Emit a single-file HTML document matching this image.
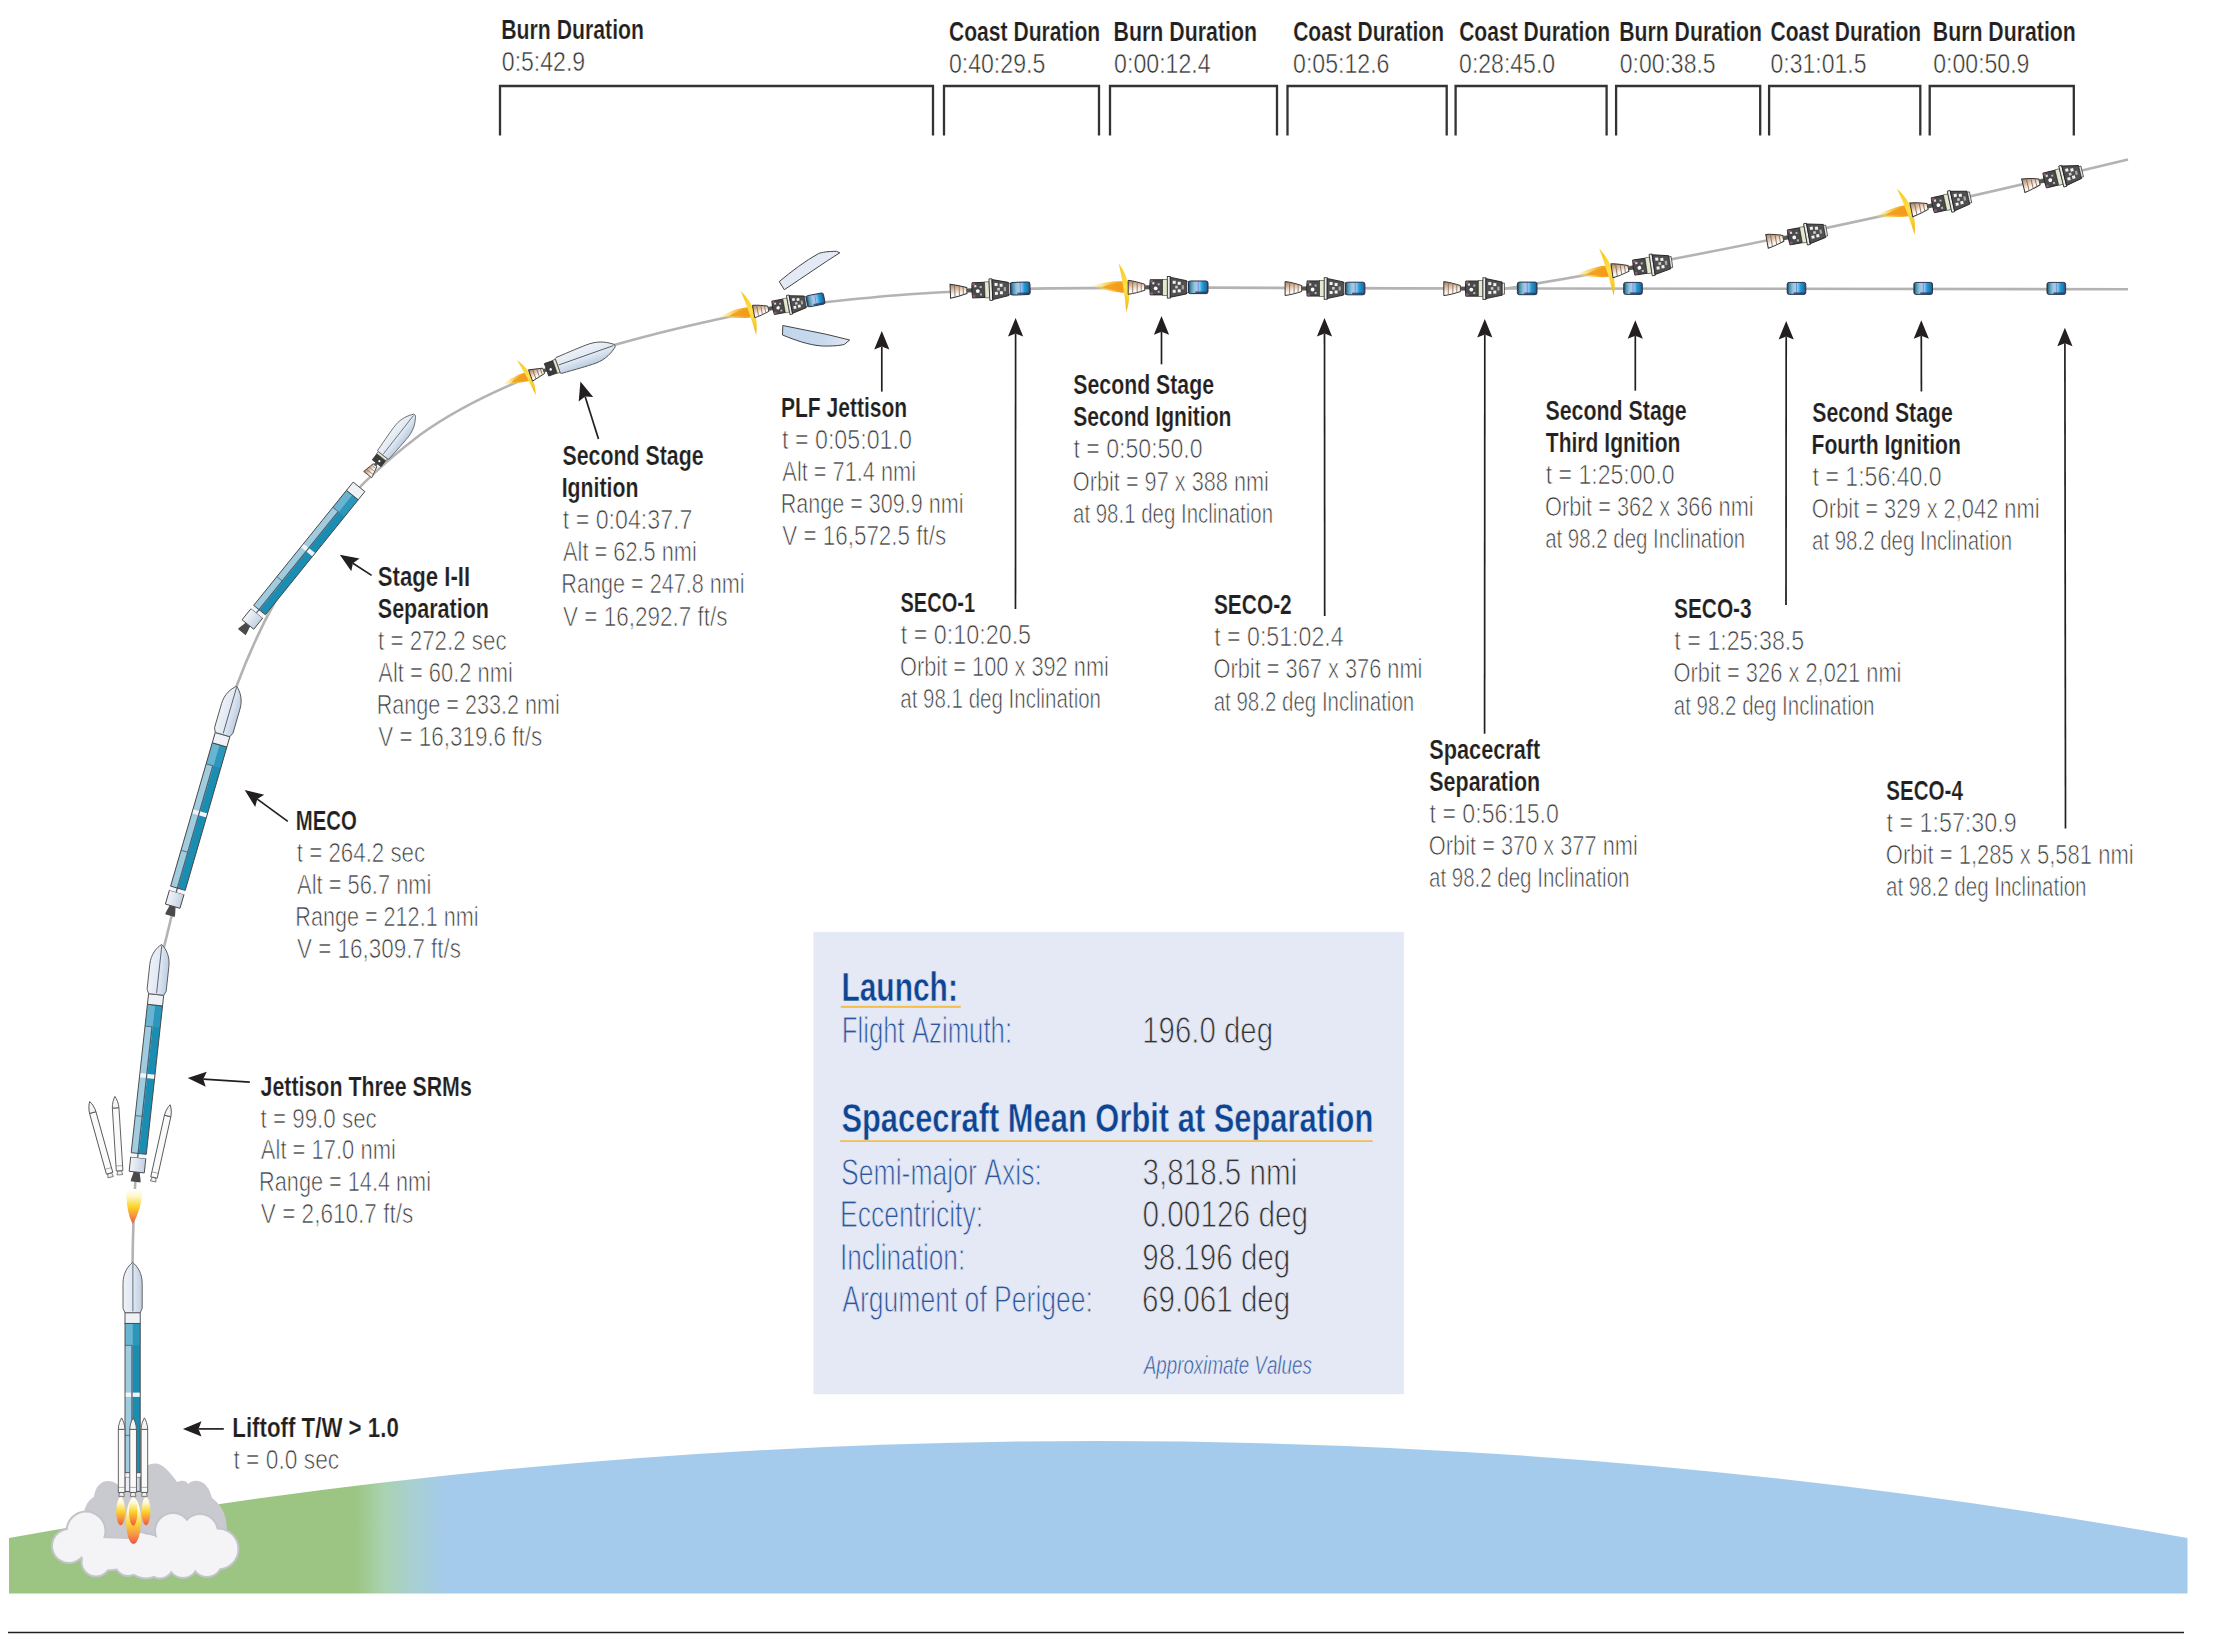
<!DOCTYPE html>
<html><head><meta charset="utf-8"><title>Launch Sequence</title><style>html,body{margin:0;padding:0;background:#fff;}svg{display:block;}</style></head><body>
<svg width="2232" height="1643" viewBox="0 0 2232 1643" font-family="Liberation Sans, sans-serif">
<defs><linearGradient id="gnd" gradientUnits="userSpaceOnUse" x1="0" y1="0" x2="2232" y2="0">
<stop offset="0" stop-color="#9cc482"/>
<stop offset="0.159" stop-color="#9cc482"/>
<stop offset="0.171" stop-color="#a9d2ad"/>
<stop offset="0.184" stop-color="#a8d0d0"/>
<stop offset="0.2" stop-color="#a5cbec"/>
<stop offset="1" stop-color="#a5cbec"/>
</linearGradient>

<linearGradient id="fairG" x1="0" y1="0" x2="1" y2="0">
 <stop offset="0" stop-color="#eef2f8"/><stop offset="0.55" stop-color="#dfe7f1"/><stop offset="1" stop-color="#bccde2"/>
</linearGradient>
<linearGradient id="fairGh" x1="0" y1="0" x2="0" y2="1">
 <stop offset="0" stop-color="#eef2f8"/><stop offset="0.55" stop-color="#dfe7f1"/><stop offset="1" stop-color="#b9cbe2"/>
</linearGradient>
<linearGradient id="skirtG" x1="0" y1="0" x2="1" y2="0">
 <stop offset="0" stop-color="#f2f5f9"/><stop offset="0.5" stop-color="#dce4ee"/><stop offset="1" stop-color="#c3d0e0"/>
</linearGradient>
<linearGradient id="noz" x1="0" y1="0" x2="0.25" y2="1">
 <stop offset="0" stop-color="#a87c5a"/><stop offset="0.45" stop-color="#e2c4ad"/><stop offset="0.75" stop-color="#fbf4ee"/><stop offset="1" stop-color="#ffffff"/>
</linearGradient>
<linearGradient id="plG" x1="0" y1="0" x2="1" y2="0">
 <stop offset="0" stop-color="#1d3550"/><stop offset="0.12" stop-color="#4a8fb0"/><stop offset="0.3" stop-color="#8cc6d6"/><stop offset="0.45" stop-color="#b8c4ee"/>
 <stop offset="0.5" stop-color="#6e8fd0"/><stop offset="0.55" stop-color="#9cc4f6"/><stop offset="0.72" stop-color="#15a0d2"/><stop offset="0.9" stop-color="#2a6fa8"/><stop offset="1" stop-color="#3a3f66"/>
</linearGradient>
<linearGradient id="plume" x1="0" y1="0" x2="1" y2="0">
 <stop offset="0" stop-color="#ffe680" stop-opacity="0"/><stop offset="0.35" stop-color="#fbd03a" stop-opacity="0.7"/><stop offset="0.7" stop-color="#f5a623"/><stop offset="1" stop-color="#f39c1a"/>
</linearGradient>
<linearGradient id="cres" x1="0" y1="0" x2="0" y2="1">
 <stop offset="0" stop-color="#f7c51e"/><stop offset="0.5" stop-color="#ffe24a"/><stop offset="1" stop-color="#f3b515"/>
</linearGradient>
<linearGradient id="flameV" x1="0" y1="0" x2="0" y2="1">
 <stop offset="0" stop-color="#ffffff"/><stop offset="0.25" stop-color="#fffbe0"/><stop offset="0.55" stop-color="#fcd935"/><stop offset="0.78" stop-color="#f79a45"/><stop offset="1" stop-color="#ee5548"/>
</linearGradient>
<linearGradient id="flameS" x1="0" y1="0" x2="0" y2="1">
 <stop offset="0" stop-color="#ffffff"/><stop offset="0.22" stop-color="#fff6c4"/><stop offset="0.5" stop-color="#fcd52a"/><stop offset="0.75" stop-color="#f8963a"/><stop offset="1" stop-color="#ee5845"/>
</linearGradient>
<linearGradient id="plfLo" x1="0" y1="0" x2="1" y2="0">
 <stop offset="0" stop-color="#c0d5ec"/><stop offset="0.6" stop-color="#c9daee"/><stop offset="1" stop-color="#e2e6f2"/>
</linearGradient>


<g id="stage1">
 <rect x="-7.6" y="-14.5" width="15.2" height="14.5" fill="url(#skirtG)" stroke="#444" stroke-width="0.9"/>
 <rect x="-7.6" y="-168" width="7.6" height="149.3" fill="#a0cce0"/>
 <rect x="0" y="-168" width="7.6" height="149.3" fill="#1a8db3"/>
 <rect x="-7.6" y="-168" width="15.2" height="22" fill="#3aa0c4" opacity="0.55"/>
 <rect x="-7.6" y="-98.8" width="15.2" height="4.3" fill="#f1f4f8"/>
 <rect x="-7.6" y="-18.7" width="15.2" height="4.2" fill="#f1f4f8"/>
 <line x1="-0.6" y1="-146" x2="-0.6" y2="-14.5" stroke="#4a6272" stroke-width="1.3"/>
 <line x1="-7.6" y1="-146" x2="0" y2="-146" stroke="#4a6272" stroke-width="0.8"/>
 <line x1="-7.6" y1="-56" x2="0" y2="-56" stroke="#4a6272" stroke-width="0.8"/>
 <rect x="-7.6" y="-168" width="15.2" height="149.3" fill="none" stroke="#444" stroke-width="0.9"/>
 <rect x="-7.6" y="-178.7" width="15.2" height="10.7" fill="#eef2f7" stroke="#444" stroke-width="0.9"/>
</g>
<g id="fairing">
 <path d="M-7.6,-178.7 L-9.6,-183 L-9.6,-208 C-9.6,-218 -5,-225 0,-229 C5,-225 9.6,-218 9.6,-208 L9.6,-183 L7.6,-178.7 Z" fill="url(#fairG)" stroke="#555" stroke-width="0.9"/>
 <line x1="0.3" y1="-228" x2="0.3" y2="-180" stroke="#55606e" stroke-width="0.9"/>
</g><path id="noz1" d="M-3,0 C-3.5,3 -4.8,6.5 -5,9.8 L5,9.8 C4.8,6.5 3.5,3 3,0 Z" fill="#4a4a4a"/><g id="rocket"><use href="#stage1"/><use href="#fairing"/></g><g id="rocketn"><use href="#noz1"/><use href="#rocket"/></g><g id="stage1n"><use href="#noz1"/><use href="#stage1"/></g>

<g id="ss">
 <path d="M0,-7 C6,-6.2 11,-4.8 16.6,-3 L16.6,3 C11,4.8 6,6.2 0,7 Z" fill="url(#noz)" stroke="#333" stroke-width="1"/>
 <path d="M4.5,-6.2 V6.2 M9,-5.2 V5.2 M13,-4 V4" stroke="#7a6655" stroke-width="0.8"/>
 <rect x="16.6" y="-2" width="5.6" height="4" fill="#555"/>
 <path d="M22,-7.6 Q21,0 22,7.6 H34.5 V-7.6 Z" fill="#4a4a4a" stroke="#222" stroke-width="0.9"/>
 <circle cx="27.5" cy="1" r="1.9" fill="#fff"/>
 <rect x="24" y="-5.2" width="2.2" height="2.2" fill="#ddd"/>
 <rect x="29.5" y="-4" width="2" height="2" fill="#bbb"/>
 <rect x="29.5" y="3.5" width="2" height="2" fill="#bbb"/>
 <circle cx="23.5" cy="-6" r="1.5" fill="#8a5870"/>
 <circle cx="23.5" cy="6" r="1.5" fill="#8a5870"/>
 <rect x="34.5" y="-8" width="4.6" height="16" fill="#e4e8cc" stroke="#333" stroke-width="0.6"/>
 <rect x="39.1" y="-10.8" width="3" height="21.6" fill="#ececec" stroke="#333" stroke-width="0.9"/>
 <path d="M42.1,-10 L58.4,-6.6 L58.4,6.6 L42.1,10 Z" fill="#505050" stroke="#222" stroke-width="0.9"/>
 <rect x="44.5" y="-6.5" width="3" height="3" fill="#f2f2f2"/>
 <rect x="49.5" y="-5.5" width="3" height="3" fill="#f2f2f2"/>
 <rect x="44.5" y="2.5" width="3" height="3" fill="#f2f2f2"/>
 <rect x="49.5" y="2" width="3" height="3" fill="#f2f2f2"/>
 <rect x="47" y="-1.5" width="2.6" height="2.6" fill="#cfcfcf"/>
 <rect x="53.5" y="-2" width="2.2" height="4" fill="#aaa"/>
 <rect x="58.4" y="-5.5" width="2.2" height="11" fill="#e6e6e6" stroke="#333" stroke-width="0.7"/>
</g>
<g id="pl">
 <rect x="-9.8" y="-6.3" width="19.6" height="12.6" rx="2" fill="url(#plG)" stroke="#26304a" stroke-width="1"/>
 <rect x="-3" y="4.2" width="12.3" height="1.8" fill="#2a3a60" opacity="0.8"/>
</g>
<g id="sspl"><use href="#ss"/><use href="#pl" x="70" y="0"/></g>


<g id="flame">
 <path d="M1,-5 C-8,-7 -22,-6 -38,-1 C-22,3 -8,6 1,6 Z" fill="url(#plume)"/>
 <path d="M-2,-3 C-10,-5 -18,-4 -26,0 C-18,2 -10,4 -2,4 Z" fill="#f39a1a" opacity="0.8"/>
 <path d="M-9.5,-24 Q7,-1 -2,25 Q-4,0 -9.5,-24 Z" fill="url(#cres)"/>
</g>

<g id="ssf">
 <path d="M0,-6 L14,-2.8 L14,2.8 L0,6 Z" fill="url(#noz)" stroke="#333" stroke-width="0.9"/>
 <path d="M4,-5 V5 M8,-4.2 V4.2 M11.5,-3.4 V3.4" stroke="#6b5a4c" stroke-width="0.7"/>
 <rect x="14" y="-1.8" width="3" height="3.6" fill="#555"/>
 <path d="M17,-6.6 H26 V6.6 H17 Z" fill="#3b3b3b" stroke="#222" stroke-width="0.7"/>
 <circle cx="21" cy="1" r="1.3" fill="#fff"/>
 <rect x="26" y="-7" width="3" height="14" fill="#e2e7c8" stroke="#333" stroke-width="0.6"/>
 <path d="M29,-7.8 L30,-8.4 C45,-9.3 56,-10.2 66,-10.2 C77,-9.8 84,-5.5 89.5,-1.2 L89.5,1.2 C84,5.5 77,9.8 66,10.2 C56,10.2 45,9.3 30,8.4 L29,7.8 Z" fill="url(#fairGh)" stroke="#555" stroke-width="0.9"/>
 <line x1="30" y1="-0.5" x2="88" y2="-0.5" stroke="#55606e" stroke-width="0.9"/>
</g>

<g id="bst">
 <path d="M-2,0 L-2.8,4 H2.8 L2,0 Z" fill="#eee" stroke="#555" stroke-width="0.7"/>
 <rect x="-3.3" y="-63" width="6.6" height="63" fill="#fafafa" stroke="#555" stroke-width="0.9"/>
 <path d="M-3.3,-63 C-3.2,-68 -1.5,-72 0,-74.5 C1.5,-72 3.2,-68 3.3,-63 Z" fill="#f4f4f4" stroke="#555" stroke-width="0.9"/>
 <line x1="-3.3" y1="-5" x2="3.3" y2="-5" stroke="#777" stroke-width="0.6"/>
</g></defs>
<path d="M9.0,1593.5 L9.0,1538.0 A6161.5,6161.5 0 0 1 2187.5,1538.1 L2187.5,1593.5 Z" fill="url(#gnd)"/>
<line x1="8" y1="1632.5" x2="2184" y2="1632.5" stroke="#231f20" stroke-width="1.3"/>
<path d="M500,135.5 V86 H933 V135.5" fill="none" stroke="#333" stroke-width="2.3"/>
<path d="M944,135.5 V86 H1099 V135.5" fill="none" stroke="#333" stroke-width="2.3"/>
<path d="M1110,135.5 V86 H1277 V135.5" fill="none" stroke="#333" stroke-width="2.3"/>
<path d="M1287.5,135.5 V86 H1446.7 V135.5" fill="none" stroke="#333" stroke-width="2.3"/>
<path d="M1455.6,135.5 V86 H1606.6 V135.5" fill="none" stroke="#333" stroke-width="2.3"/>
<path d="M1616.1,135.5 V86 H1760.2 V135.5" fill="none" stroke="#333" stroke-width="2.3"/>
<path d="M1769.1,135.5 V86 H1920.3 V135.5" fill="none" stroke="#333" stroke-width="2.3"/>
<path d="M1929.7,135.5 V86 H2073.8 V135.5" fill="none" stroke="#333" stroke-width="2.3"/>
<text x="501.28" y="38.9" font-size="27" fill="#231f20" kerning="0" style="font-kerning:none" font-weight="bold" textLength="142.74" lengthAdjust="spacingAndGlyphs" stroke="#fff" stroke-width="0.2">Burn Duration</text>
<text x="501.80" y="70.9" font-size="27" fill="#333" kerning="0" style="font-kerning:none" textLength="83.39" lengthAdjust="spacingAndGlyphs" stroke="#fff" stroke-width="0.5">0:5:42.9</text>
<text x="948.93" y="40.5" font-size="27" fill="#231f20" kerning="0" style="font-kerning:none" font-weight="bold" textLength="151.27" lengthAdjust="spacingAndGlyphs" stroke="#fff" stroke-width="0.2">Coast Duration</text>
<text x="948.90" y="72.7" font-size="27" fill="#333" kerning="0" style="font-kerning:none" textLength="96.37" lengthAdjust="spacingAndGlyphs" stroke="#fff" stroke-width="0.5">0:40:29.5</text>
<text x="1113.57" y="40.5" font-size="27" fill="#231f20" kerning="0" style="font-kerning:none" font-weight="bold" textLength="143.45" lengthAdjust="spacingAndGlyphs" stroke="#fff" stroke-width="0.2">Burn Duration</text>
<text x="1114.10" y="72.7" font-size="27" fill="#333" kerning="0" style="font-kerning:none" textLength="96.58" lengthAdjust="spacingAndGlyphs" stroke="#fff" stroke-width="0.5">0:00:12.4</text>
<text x="1293.14" y="40.5" font-size="27" fill="#231f20" kerning="0" style="font-kerning:none" font-weight="bold" textLength="150.87" lengthAdjust="spacingAndGlyphs" stroke="#fff" stroke-width="0.2">Coast Duration</text>
<text x="1293.10" y="72.7" font-size="27" fill="#333" kerning="0" style="font-kerning:none" textLength="96.32" lengthAdjust="spacingAndGlyphs" stroke="#fff" stroke-width="0.5">0:05:12.6</text>
<text x="1459.14" y="40.5" font-size="27" fill="#231f20" kerning="0" style="font-kerning:none" font-weight="bold" textLength="151.07" lengthAdjust="spacingAndGlyphs" stroke="#fff" stroke-width="0.2">Coast Duration</text>
<text x="1459.10" y="72.7" font-size="27" fill="#333" kerning="0" style="font-kerning:none" textLength="96.00" lengthAdjust="spacingAndGlyphs" stroke="#fff" stroke-width="0.5">0:28:45.0</text>
<text x="1619.18" y="40.5" font-size="27" fill="#231f20" kerning="0" style="font-kerning:none" font-weight="bold" textLength="142.74" lengthAdjust="spacingAndGlyphs" stroke="#fff" stroke-width="0.2">Burn Duration</text>
<text x="1619.70" y="72.7" font-size="27" fill="#333" kerning="0" style="font-kerning:none" textLength="95.97" lengthAdjust="spacingAndGlyphs" stroke="#fff" stroke-width="0.5">0:00:38.5</text>
<text x="1770.54" y="40.5" font-size="27" fill="#231f20" kerning="0" style="font-kerning:none" font-weight="bold" textLength="150.67" lengthAdjust="spacingAndGlyphs" stroke="#fff" stroke-width="0.2">Coast Duration</text>
<text x="1770.50" y="72.7" font-size="27" fill="#333" kerning="0" style="font-kerning:none" textLength="95.97" lengthAdjust="spacingAndGlyphs" stroke="#fff" stroke-width="0.5">0:31:01.5</text>
<text x="1932.78" y="40.5" font-size="27" fill="#231f20" kerning="0" style="font-kerning:none" font-weight="bold" textLength="143.04" lengthAdjust="spacingAndGlyphs" stroke="#fff" stroke-width="0.2">Burn Duration</text>
<text x="1933.30" y="72.7" font-size="27" fill="#333" kerning="0" style="font-kerning:none" textLength="96.09" lengthAdjust="spacingAndGlyphs" stroke="#fff" stroke-width="0.5">0:00:50.9</text>
<path d="M132.5,1300 L132.6,1262 C133.5,1150 150,1000 165,943 C185,860 215,750 236.4,686.5 C250,650 262,625 275.9,600 C300,557 330,518 363,483.8 C385,462 400,450 419.5,435.2 C450,413 480,398 513.6,383.5 C550,367 580,355 617,344.3 C660,332 700,323 733,316 C770,309 800,305 827,302 C860,298.5 880,296.5 900,295 C920,293.5 935,292.6 948,292 C980,290.3 1010,289.2 1034,288.6 C1100,287.6 1150,287.5 1209,287.6 L1400,288.4 L2128,289.2" fill="none" stroke="#b3b3b3" stroke-width="2.6"/>
<path d="M1503,289 Q1760,248 2128,159.4" fill="none" stroke="#b3b3b3" stroke-width="2.6"/>
<path d="M82,1530 L84,1512 C86,1503 90,1499 94,1497 C95,1487 101,1481 108,1481 C114,1481 118,1484 120,1488 L138,1474 C144,1466 150,1463 156,1463.5 C163,1464 170,1472 177,1482 C182,1480 186,1480 188,1484 C190,1482 194,1480 198,1481 C206,1482 210,1490 212,1498 C219,1503 224,1510 226,1520 L228,1540 L82,1545 Z" fill="#c9cacf"/>
<g fill="#c3c4c9"><circle cx="86" cy="1531" r="20.5"/><circle cx="69" cy="1546" r="18.0"/><circle cx="96" cy="1562" r="15.5"/><circle cx="117" cy="1551" r="13.0"/><circle cx="146" cy="1556" r="23.5"/><circle cx="173" cy="1531" r="19.0"/><circle cx="200" cy="1532" r="19.0"/><circle cx="218" cy="1549" r="21.5"/><circle cx="183" cy="1563" r="16.0"/><circle cx="207" cy="1562" r="16.0"/><circle cx="128" cy="1563" r="14.0"/><circle cx="160" cy="1565" r="14.5"/><circle cx="190" cy="1545" r="17.0"/><circle cx="140" cy="1545" r="14.0"/><path d="M70,1548 L100,1538 L160,1540 L215,1545 L220,1560 L100,1570 Z" stroke="#c6c7cc" stroke-width="4"/></g><g fill="#f4f4f6"><circle cx="86" cy="1531" r="18.5"/><circle cx="69" cy="1546" r="16"/><circle cx="96" cy="1562" r="13.5"/><circle cx="117" cy="1551" r="11"/><circle cx="146" cy="1556" r="21.5"/><circle cx="173" cy="1531" r="17"/><circle cx="200" cy="1532" r="17"/><circle cx="218" cy="1549" r="19.5"/><circle cx="183" cy="1563" r="14"/><circle cx="207" cy="1562" r="14"/><circle cx="128" cy="1563" r="12"/><circle cx="160" cy="1565" r="12.5"/><circle cx="190" cy="1545" r="15"/><circle cx="140" cy="1545" r="12"/><path d="M70,1548 L100,1538 L160,1540 L215,1545 L220,1560 L100,1570 Z"/></g>
<ellipse cx="120.7" cy="1511.3" rx="4.4" ry="14" fill="url(#flameS)"/>
<ellipse cx="146" cy="1511.3" rx="4.4" ry="14" fill="url(#flameS)"/>
<ellipse cx="133.5" cy="1521" rx="7.4" ry="23" fill="url(#flameV)"/>
<ellipse cx="133.2" cy="1511.5" rx="4.2" ry="14.2" fill="url(#flameS)"/>
<use href="#rocket" transform="translate(132.60,1491.40)"/>
<use href="#bst" transform="translate(121.60,1492.40)"/>
<use href="#bst" transform="translate(144.40,1492.40)"/>
<use href="#bst" transform="translate(133.10,1492.40)"/>
<path d="M126.3,1189 C126,1204 128.5,1217 132.8,1224 C137,1217 142.2,1204 142.4,1189 Z" fill="url(#flameS)"/>
<use href="#rocketn" transform="translate(136.70,1172.10) rotate(6.25)"/>
<use href="#bst" transform="translate(109.60,1173.30) rotate(-15.50)"/>
<use href="#bst" transform="translate(119.60,1170.80) rotate(-3.60)"/>
<use href="#bst" transform="translate(154.00,1177.50) rotate(12.50)"/>
<use href="#rocketn" transform="translate(172.70,906.20) rotate(16.20)"/>
<use href="#stage1n" transform="translate(247.90,624.50) rotate(38.90) scale(0.99)"/>
<use href="#ssf" transform="translate(367.70,474.60) rotate(-51.90) scale(0.85)"/>
<use href="#flame" transform="translate(530.50,375.50) rotate(-19.50) scale(0.8)"/>
<use href="#ssf" transform="translate(530.50,375.50) rotate(-19.50)"/>
<use href="#flame" transform="translate(753.60,311.50) rotate(-10.60) scale(0.95)"/>
<use href="#sspl" transform="translate(753.60,311.50) rotate(-10.60) scale(0.9)"/>
<path d="M779.2,281.6 L784.3,289.7 C805,276 822,264 839.8,252.8 L836.5,251.3 C828,251.4 822,252.2 818.6,253.5 C805,261 792,271 779.2,281.6 Z" fill="#e4eaf5" stroke="#444" stroke-width="1"/>
<path d="M782.8,325.5 L782.5,335 C795,340 808,345 822.3,346 C832,346.3 839,345.6 844.2,344.5 L849.7,340 L825.9,334.2 Z" fill="url(#plfLo)" stroke="#444" stroke-width="1"/>
<use href="#sspl" transform="translate(950.30,291.20) rotate(-2.20)"/>
<use href="#flame" transform="translate(1128.20,287.30)"/>
<use href="#sspl" transform="translate(1128.20,287.30)"/>
<use href="#sspl" transform="translate(1285.10,288.50)"/>
<use href="#ss" transform="translate(1443.80,288.60)"/>
<use href="#pl" transform="translate(1527.20,288.40)"/>
<use href="#pl" transform="translate(1633.00,288.40) scale(0.95)"/>
<use href="#pl" transform="translate(1796.50,288.40) scale(0.95)"/>
<use href="#pl" transform="translate(1923.20,288.40) scale(0.95)"/>
<use href="#pl" transform="translate(2056.30,288.40) scale(0.95)"/>
<use href="#flame" transform="translate(1612.00,270.80) rotate(-8.40)"/>
<use href="#ss" transform="translate(1612.00,270.80) rotate(-8.40)"/>
<use href="#ss" transform="translate(1767.00,241.30) rotate(-10.20)"/>
<use href="#flame" transform="translate(1911.30,209.90) rotate(-12.10)"/>
<use href="#ss" transform="translate(1911.30,209.90) rotate(-12.10)"/>
<use href="#ss" transform="translate(2023.30,185.70) rotate(-13.60)"/>
<line x1="198.5" y1="1428.9" x2="223.8" y2="1428.9" stroke="#231f20" stroke-width="1.7"/>
<polygon points="182.9,1428.9 201.5,1436.5 198.5,1428.9 201.5,1421.3" fill="#231f20"/>
<line x1="203.3" y1="1079.1" x2="249.8" y2="1082.2" stroke="#231f20" stroke-width="1.7"/>
<polygon points="187.7,1078.0 205.7,1086.8 203.3,1079.1 206.8,1071.7" fill="#231f20"/>
<line x1="257.3" y1="799.1" x2="287.8" y2="821.4" stroke="#231f20" stroke-width="1.7"/>
<polygon points="244.7,789.9 255.2,807.0 257.3,799.1 264.2,794.7" fill="#231f20"/>
<line x1="352.9" y1="563.3" x2="371.6" y2="575.4" stroke="#231f20" stroke-width="1.7"/>
<polygon points="339.8,554.8 351.3,571.3 352.9,563.3 359.5,558.5" fill="#231f20"/>
<line x1="585.1" y1="396.4" x2="598.5" y2="439.0" stroke="#231f20" stroke-width="1.7"/>
<polygon points="580.4,381.5 578.7,401.5 585.1,396.4 593.2,397.0" fill="#231f20"/>
<line x1="881.8" y1="346.6" x2="881.8" y2="391.6" stroke="#231f20" stroke-width="1.7"/>
<polygon points="881.8,331.0 874.2,349.6 881.8,346.6 889.4,349.6" fill="#231f20"/>
<line x1="1015.6" y1="333.6" x2="1015.5" y2="608.9" stroke="#231f20" stroke-width="1.7"/>
<polygon points="1015.6,318.0 1008.0,336.6 1015.6,333.6 1023.2,336.6" fill="#231f20"/>
<line x1="1161.5" y1="331.7" x2="1161.5" y2="364.3" stroke="#231f20" stroke-width="1.7"/>
<polygon points="1161.5,316.1 1153.9,334.7 1161.5,331.7 1169.1,334.7" fill="#231f20"/>
<line x1="1324.5" y1="333.6" x2="1324.7" y2="616.0" stroke="#231f20" stroke-width="1.7"/>
<polygon points="1324.5,318.0 1316.9,336.6 1324.5,333.6 1332.1,336.6" fill="#231f20"/>
<line x1="1484.8" y1="334.6" x2="1484.6" y2="733.7" stroke="#231f20" stroke-width="1.7"/>
<polygon points="1484.8,319.0 1477.2,337.6 1484.8,334.6 1492.4,337.6" fill="#231f20"/>
<line x1="1635.3" y1="335.8" x2="1635.3" y2="390.7" stroke="#231f20" stroke-width="1.7"/>
<polygon points="1635.3,320.2 1627.7,338.8 1635.3,335.8 1642.9,338.8" fill="#231f20"/>
<line x1="1786.2" y1="336.6" x2="1786.0" y2="605.0" stroke="#231f20" stroke-width="1.7"/>
<polygon points="1786.2,321.0 1778.6,339.6 1786.2,336.6 1793.8,339.6" fill="#231f20"/>
<line x1="1921.3" y1="335.8" x2="1921.4" y2="391.4" stroke="#231f20" stroke-width="1.7"/>
<polygon points="1921.3,320.2 1913.7,338.8 1921.3,335.8 1928.9,338.8" fill="#231f20"/>
<line x1="2064.9" y1="343.3" x2="2065.5" y2="828.4" stroke="#231f20" stroke-width="1.7"/>
<polygon points="2064.9,327.7 2057.3,346.3 2064.9,343.3 2072.5,346.3" fill="#231f20"/>
<text x="232.31" y="1436.7" font-size="27" fill="#231f20" kerning="0" style="font-kerning:none" font-weight="bold" textLength="166.50" lengthAdjust="spacingAndGlyphs" stroke="#fff" stroke-width="0.2">Liftoff T/W &gt; 1.0</text>
<text x="233.46" y="1468.5" font-size="27" fill="#3d3d3d" kerning="0" style="font-kerning:none" textLength="105.75" lengthAdjust="spacingAndGlyphs" stroke="#fff" stroke-width="0.7">t = 0.0 sec</text>
<text x="260.58" y="1095.5" font-size="27" fill="#231f20" kerning="0" style="font-kerning:none" font-weight="bold" textLength="211.20" lengthAdjust="spacingAndGlyphs" stroke="#fff" stroke-width="0.2">Jettison Three SRMs</text>
<text x="260.56" y="1127.5" font-size="27" fill="#3d3d3d" kerning="0" style="font-kerning:none" textLength="116.23" lengthAdjust="spacingAndGlyphs" stroke="#fff" stroke-width="0.7">t = 99.0 sec</text>
<text x="260.86" y="1159.4" font-size="27" fill="#3d3d3d" kerning="0" style="font-kerning:none" textLength="135.02" lengthAdjust="spacingAndGlyphs" stroke="#fff" stroke-width="0.7">Alt = 17.0 nmi</text>
<text x="259.12" y="1191.4" font-size="27" fill="#3d3d3d" kerning="0" style="font-kerning:none" textLength="171.84" lengthAdjust="spacingAndGlyphs" stroke="#fff" stroke-width="0.7">Range = 14.4 nmi</text>
<text x="260.80" y="1223.4" font-size="27" fill="#3d3d3d" kerning="0" style="font-kerning:none" textLength="152.52" lengthAdjust="spacingAndGlyphs" stroke="#fff" stroke-width="0.7">V = 2,610.7 ft/s</text>
<text x="295.74" y="830.3" font-size="27" fill="#231f20" kerning="0" style="font-kerning:none" font-weight="bold" textLength="61.01" lengthAdjust="spacingAndGlyphs" stroke="#fff" stroke-width="0.2">MECO</text>
<text x="296.76" y="862.3" font-size="27" fill="#3d3d3d" kerning="0" style="font-kerning:none" textLength="128.43" lengthAdjust="spacingAndGlyphs" stroke="#fff" stroke-width="0.7">t = 264.2 sec</text>
<text x="297.06" y="894.2" font-size="27" fill="#3d3d3d" kerning="0" style="font-kerning:none" textLength="134.32" lengthAdjust="spacingAndGlyphs" stroke="#fff" stroke-width="0.7">Alt = 56.7 nmi</text>
<text x="295.33" y="926.2" font-size="27" fill="#3d3d3d" kerning="0" style="font-kerning:none" textLength="183.13" lengthAdjust="spacingAndGlyphs" stroke="#fff" stroke-width="0.7">Range = 212.1 nmi</text>
<text x="297.00" y="958.2" font-size="27" fill="#3d3d3d" kerning="0" style="font-kerning:none" textLength="164.01" lengthAdjust="spacingAndGlyphs" stroke="#fff" stroke-width="0.7">V = 16,309.7 ft/s</text>
<text x="377.76" y="585.8" font-size="27" fill="#231f20" kerning="0" style="font-kerning:none" font-weight="bold" textLength="92.42" lengthAdjust="spacingAndGlyphs" stroke="#fff" stroke-width="0.2">Stage I-II</text>
<text x="377.78" y="617.8" font-size="27" fill="#231f20" kerning="0" style="font-kerning:none" font-weight="bold" textLength="111.26" lengthAdjust="spacingAndGlyphs" stroke="#fff" stroke-width="0.2">Separation</text>
<text x="378.06" y="649.8" font-size="27" fill="#3d3d3d" kerning="0" style="font-kerning:none" textLength="128.53" lengthAdjust="spacingAndGlyphs" stroke="#fff" stroke-width="0.7">t = 272.2 sec</text>
<text x="378.36" y="681.9" font-size="27" fill="#3d3d3d" kerning="0" style="font-kerning:none" textLength="134.42" lengthAdjust="spacingAndGlyphs" stroke="#fff" stroke-width="0.7">Alt = 60.2 nmi</text>
<text x="376.63" y="713.9" font-size="27" fill="#3d3d3d" kerning="0" style="font-kerning:none" textLength="183.23" lengthAdjust="spacingAndGlyphs" stroke="#fff" stroke-width="0.7">Range = 233.2 nmi</text>
<text x="378.30" y="745.9" font-size="27" fill="#3d3d3d" kerning="0" style="font-kerning:none" textLength="163.91" lengthAdjust="spacingAndGlyphs" stroke="#fff" stroke-width="0.7">V = 16,319.6 ft/s</text>
<text x="562.49" y="465.0" font-size="27" fill="#231f20" kerning="0" style="font-kerning:none" font-weight="bold" textLength="141.04" lengthAdjust="spacingAndGlyphs" stroke="#fff" stroke-width="0.2">Second Stage</text>
<text x="561.68" y="497.1" font-size="27" fill="#231f20" kerning="0" style="font-kerning:none" font-weight="bold" textLength="76.74" lengthAdjust="spacingAndGlyphs" stroke="#fff" stroke-width="0.2">Ignition</text>
<text x="562.75" y="529.2" font-size="27" fill="#3d3d3d" kerning="0" style="font-kerning:none" textLength="129.72" lengthAdjust="spacingAndGlyphs" stroke="#fff" stroke-width="0.7">t = 0:04:37.7</text>
<text x="563.06" y="561.3" font-size="27" fill="#3d3d3d" kerning="0" style="font-kerning:none" textLength="133.81" lengthAdjust="spacingAndGlyphs" stroke="#fff" stroke-width="0.7">Alt = 62.5 nmi</text>
<text x="561.33" y="593.4" font-size="27" fill="#3d3d3d" kerning="0" style="font-kerning:none" textLength="183.23" lengthAdjust="spacingAndGlyphs" stroke="#fff" stroke-width="0.7">Range = 247.8 nmi</text>
<text x="563.00" y="625.5" font-size="27" fill="#3d3d3d" kerning="0" style="font-kerning:none" textLength="164.41" lengthAdjust="spacingAndGlyphs" stroke="#fff" stroke-width="0.7">V = 16,292.7 ft/s</text>
<text x="780.99" y="416.7" font-size="27" fill="#231f20" kerning="0" style="font-kerning:none" font-weight="bold" textLength="126.21" lengthAdjust="spacingAndGlyphs" stroke="#fff" stroke-width="0.2">PLF Jettison</text>
<text x="782.05" y="448.8" font-size="27" fill="#3d3d3d" kerning="0" style="font-kerning:none" textLength="129.86" lengthAdjust="spacingAndGlyphs" stroke="#fff" stroke-width="0.7">t = 0:05:01.0</text>
<text x="782.36" y="480.8" font-size="27" fill="#3d3d3d" kerning="0" style="font-kerning:none" textLength="133.71" lengthAdjust="spacingAndGlyphs" stroke="#fff" stroke-width="0.7">Alt = 71.4 nmi</text>
<text x="780.63" y="512.9" font-size="27" fill="#3d3d3d" kerning="0" style="font-kerning:none" textLength="182.92" lengthAdjust="spacingAndGlyphs" stroke="#fff" stroke-width="0.7">Range = 309.9 nmi</text>
<text x="782.30" y="545.0" font-size="27" fill="#3d3d3d" kerning="0" style="font-kerning:none" textLength="163.81" lengthAdjust="spacingAndGlyphs" stroke="#fff" stroke-width="0.7">V = 16,572.5 ft/s</text>
<text x="900.52" y="612.0" font-size="27" fill="#231f20" kerning="0" style="font-kerning:none" font-weight="bold" textLength="74.53" lengthAdjust="spacingAndGlyphs" stroke="#fff" stroke-width="0.2">SECO-1</text>
<text x="900.75" y="644.1" font-size="27" fill="#3d3d3d" kerning="0" style="font-kerning:none" textLength="130.33" lengthAdjust="spacingAndGlyphs" stroke="#fff" stroke-width="0.7">t = 0:10:20.5</text>
<text x="900.07" y="676.2" font-size="27" fill="#3d3d3d" kerning="0" style="font-kerning:none" textLength="208.80" lengthAdjust="spacingAndGlyphs" stroke="#fff" stroke-width="0.7">Orbit = 100 x 392 nmi</text>
<text x="900.23" y="708.3" font-size="27" fill="#3d3d3d" kerning="0" style="font-kerning:none" textLength="200.80" lengthAdjust="spacingAndGlyphs" stroke="#fff" stroke-width="0.7">at 98.1 deg Inclination</text>
<text x="1073.29" y="394.2" font-size="27" fill="#231f20" kerning="0" style="font-kerning:none" font-weight="bold" textLength="140.74" lengthAdjust="spacingAndGlyphs" stroke="#fff" stroke-width="0.2">Second Stage</text>
<text x="1073.29" y="426.3" font-size="27" fill="#231f20" kerning="0" style="font-kerning:none" font-weight="bold" textLength="158.11" lengthAdjust="spacingAndGlyphs" stroke="#fff" stroke-width="0.2">Second Ignition</text>
<text x="1073.55" y="458.4" font-size="27" fill="#3d3d3d" kerning="0" style="font-kerning:none" textLength="128.95" lengthAdjust="spacingAndGlyphs" stroke="#fff" stroke-width="0.7">t = 0:50:50.0</text>
<text x="1072.87" y="490.5" font-size="27" fill="#3d3d3d" kerning="0" style="font-kerning:none" textLength="195.99" lengthAdjust="spacingAndGlyphs" stroke="#fff" stroke-width="0.7">Orbit = 97 x 388 nmi</text>
<text x="1073.03" y="522.6" font-size="27" fill="#3d3d3d" kerning="0" style="font-kerning:none" textLength="200.00" lengthAdjust="spacingAndGlyphs" stroke="#fff" stroke-width="0.7">at 98.1 deg Inclination</text>
<text x="1213.90" y="613.9" font-size="27" fill="#231f20" kerning="0" style="font-kerning:none" font-weight="bold" textLength="77.84" lengthAdjust="spacingAndGlyphs" stroke="#fff" stroke-width="0.2">SECO-2</text>
<text x="1214.15" y="646.1" font-size="27" fill="#3d3d3d" kerning="0" style="font-kerning:none" textLength="129.53" lengthAdjust="spacingAndGlyphs" stroke="#fff" stroke-width="0.7">t = 0:51:02.4</text>
<text x="1213.47" y="678.3" font-size="27" fill="#3d3d3d" kerning="0" style="font-kerning:none" textLength="209.00" lengthAdjust="spacingAndGlyphs" stroke="#fff" stroke-width="0.7">Orbit = 367 x 376 nmi</text>
<text x="1213.63" y="710.5" font-size="27" fill="#3d3d3d" kerning="0" style="font-kerning:none" textLength="200.60" lengthAdjust="spacingAndGlyphs" stroke="#fff" stroke-width="0.7">at 98.2 deg Inclination</text>
<text x="1429.27" y="758.6" font-size="27" fill="#231f20" kerning="0" style="font-kerning:none" font-weight="bold" textLength="110.99" lengthAdjust="spacingAndGlyphs" stroke="#fff" stroke-width="0.2">Spacecraft</text>
<text x="1429.28" y="790.7" font-size="27" fill="#231f20" kerning="0" style="font-kerning:none" font-weight="bold" textLength="110.95" lengthAdjust="spacingAndGlyphs" stroke="#fff" stroke-width="0.2">Separation</text>
<text x="1429.55" y="822.8" font-size="27" fill="#3d3d3d" kerning="0" style="font-kerning:none" textLength="129.35" lengthAdjust="spacingAndGlyphs" stroke="#fff" stroke-width="0.7">t = 0:56:15.0</text>
<text x="1428.87" y="854.9" font-size="27" fill="#3d3d3d" kerning="0" style="font-kerning:none" textLength="208.90" lengthAdjust="spacingAndGlyphs" stroke="#fff" stroke-width="0.7">Orbit = 370 x 377 nmi</text>
<text x="1429.03" y="887.0" font-size="27" fill="#3d3d3d" kerning="0" style="font-kerning:none" textLength="200.40" lengthAdjust="spacingAndGlyphs" stroke="#fff" stroke-width="0.7">at 98.2 deg Inclination</text>
<text x="1545.38" y="419.6" font-size="27" fill="#231f20" kerning="0" style="font-kerning:none" font-weight="bold" textLength="141.35" lengthAdjust="spacingAndGlyphs" stroke="#fff" stroke-width="0.2">Second Stage</text>
<text x="1545.76" y="451.8" font-size="27" fill="#231f20" kerning="0" style="font-kerning:none" font-weight="bold" textLength="134.64" lengthAdjust="spacingAndGlyphs" stroke="#fff" stroke-width="0.2">Third Ignition</text>
<text x="1545.65" y="483.9" font-size="27" fill="#3d3d3d" kerning="0" style="font-kerning:none" textLength="129.05" lengthAdjust="spacingAndGlyphs" stroke="#fff" stroke-width="0.7">t = 1:25:00.0</text>
<text x="1544.97" y="516.0" font-size="27" fill="#3d3d3d" kerning="0" style="font-kerning:none" textLength="208.70" lengthAdjust="spacingAndGlyphs" stroke="#fff" stroke-width="0.7">Orbit = 362 x 366 nmi</text>
<text x="1545.13" y="548.2" font-size="27" fill="#3d3d3d" kerning="0" style="font-kerning:none" textLength="200.00" lengthAdjust="spacingAndGlyphs" stroke="#fff" stroke-width="0.7">at 98.2 deg Inclination</text>
<text x="1674.00" y="618.2" font-size="27" fill="#231f20" kerning="0" style="font-kerning:none" font-weight="bold" textLength="77.65" lengthAdjust="spacingAndGlyphs" stroke="#fff" stroke-width="0.2">SECO-3</text>
<text x="1674.25" y="650.3" font-size="27" fill="#3d3d3d" kerning="0" style="font-kerning:none" textLength="130.03" lengthAdjust="spacingAndGlyphs" stroke="#fff" stroke-width="0.7">t = 1:25:38.5</text>
<text x="1673.56" y="682.4" font-size="27" fill="#3d3d3d" kerning="0" style="font-kerning:none" textLength="227.91" lengthAdjust="spacingAndGlyphs" stroke="#fff" stroke-width="0.7">Orbit = 326 x 2,021 nmi</text>
<text x="1673.73" y="714.5" font-size="27" fill="#3d3d3d" kerning="0" style="font-kerning:none" textLength="200.80" lengthAdjust="spacingAndGlyphs" stroke="#fff" stroke-width="0.7">at 98.2 deg Inclination</text>
<text x="1812.29" y="421.5" font-size="27" fill="#231f20" kerning="0" style="font-kerning:none" font-weight="bold" textLength="140.54" lengthAdjust="spacingAndGlyphs" stroke="#fff" stroke-width="0.2">Second Stage</text>
<text x="1811.48" y="453.7" font-size="27" fill="#231f20" kerning="0" style="font-kerning:none" font-weight="bold" textLength="149.53" lengthAdjust="spacingAndGlyphs" stroke="#fff" stroke-width="0.2">Fourth Ignition</text>
<text x="1812.55" y="485.9" font-size="27" fill="#3d3d3d" kerning="0" style="font-kerning:none" textLength="129.05" lengthAdjust="spacingAndGlyphs" stroke="#fff" stroke-width="0.7">t = 1:56:40.0</text>
<text x="1811.87" y="518.1" font-size="27" fill="#3d3d3d" kerning="0" style="font-kerning:none" textLength="227.71" lengthAdjust="spacingAndGlyphs" stroke="#fff" stroke-width="0.7">Orbit = 329 x 2,042 nmi</text>
<text x="1812.03" y="550.3" font-size="27" fill="#3d3d3d" kerning="0" style="font-kerning:none" textLength="200.00" lengthAdjust="spacingAndGlyphs" stroke="#fff" stroke-width="0.7">at 98.2 deg Inclination</text>
<text x="1886.31" y="799.5" font-size="27" fill="#231f20" kerning="0" style="font-kerning:none" font-weight="bold" textLength="76.60" lengthAdjust="spacingAndGlyphs" stroke="#fff" stroke-width="0.2">SECO-4</text>
<text x="1886.55" y="831.5" font-size="27" fill="#3d3d3d" kerning="0" style="font-kerning:none" textLength="130.05" lengthAdjust="spacingAndGlyphs" stroke="#fff" stroke-width="0.7">t = 1:57:30.9</text>
<text x="1885.86" y="863.5" font-size="27" fill="#3d3d3d" kerning="0" style="font-kerning:none" textLength="247.83" lengthAdjust="spacingAndGlyphs" stroke="#fff" stroke-width="0.7">Orbit = 1,285 x 5,581 nmi</text>
<text x="1886.03" y="895.5" font-size="27" fill="#3d3d3d" kerning="0" style="font-kerning:none" textLength="200.50" lengthAdjust="spacingAndGlyphs" stroke="#fff" stroke-width="0.7">at 98.2 deg Inclination</text>
<rect x="813.4" y="931.9" width="590.5" height="462.3" fill="#e4e9f5"/>
<text x="841.40" y="1000.8" font-size="41.5" fill="#0d4592" kerning="0" style="font-kerning:none" font-weight="bold" textLength="116.49" lengthAdjust="spacingAndGlyphs" stroke="#e4e9f5" stroke-width="0.5">Launch:</text>
<rect x="840.8" y="1005.8" width="120" height="2.1" fill="#f4bf4a"/>
<text x="841.79" y="1043.3" font-size="36.5" fill="#2c56a0" kerning="0" style="font-kerning:none" textLength="170.26" lengthAdjust="spacingAndGlyphs" stroke="#e4e9f5" stroke-width="0.9">Flight Azimuth:</text>
<text x="1142.26" y="1043.3" font-size="36.5" fill="#333333" kerning="0" style="font-kerning:none" textLength="130.84" lengthAdjust="spacingAndGlyphs" stroke="#e4e9f5" stroke-width="0.9">196.0 deg</text>
<text x="841.41" y="1132.1" font-size="40" fill="#0d4592" kerning="0" style="font-kerning:none" font-weight="bold" textLength="531.90" lengthAdjust="spacingAndGlyphs" stroke="#e4e9f5" stroke-width="0.5">Spacecraft Mean Orbit at Separation</text>
<rect x="840.2" y="1140.2" width="532.4" height="1.8" fill="#f4bf4a"/>
<text x="841.09" y="1184.5" font-size="36.5" fill="#2c56a0" kerning="0" style="font-kerning:none" textLength="200.73" lengthAdjust="spacingAndGlyphs" stroke="#e4e9f5" stroke-width="0.9">Semi-major Axis:</text>
<text x="1142.47" y="1184.5" font-size="36.5" fill="#333333" kerning="0" style="font-kerning:none" textLength="154.82" lengthAdjust="spacingAndGlyphs" stroke="#e4e9f5" stroke-width="0.9">3,818.5 nmi</text>
<text x="840.12" y="1227.1" font-size="36.5" fill="#2c56a0" kerning="0" style="font-kerning:none" textLength="143.00" lengthAdjust="spacingAndGlyphs" stroke="#e4e9f5" stroke-width="0.9">Eccentricity:</text>
<text x="1142.44" y="1227.1" font-size="36.5" fill="#333333" kerning="0" style="font-kerning:none" textLength="165.68" lengthAdjust="spacingAndGlyphs" stroke="#e4e9f5" stroke-width="0.9">0.00126 deg</text>
<text x="839.88" y="1270.0" font-size="36.5" fill="#2c56a0" kerning="0" style="font-kerning:none" textLength="125.31" lengthAdjust="spacingAndGlyphs" stroke="#e4e9f5" stroke-width="0.9">Inclination:</text>
<text x="1142.21" y="1270.0" font-size="36.5" fill="#333333" kerning="0" style="font-kerning:none" textLength="148.09" lengthAdjust="spacingAndGlyphs" stroke="#e4e9f5" stroke-width="0.9">98.196 deg</text>
<text x="842.25" y="1312.2" font-size="36.5" fill="#2c56a0" kerning="0" style="font-kerning:none" textLength="250.67" lengthAdjust="spacingAndGlyphs" stroke="#e4e9f5" stroke-width="0.9">Argument of Perigee:</text>
<text x="1142.10" y="1312.2" font-size="36.5" fill="#333333" kerning="0" style="font-kerning:none" textLength="148.21" lengthAdjust="spacingAndGlyphs" stroke="#e4e9f5" stroke-width="0.9">69.061 deg</text>
<text x="1143.73" y="1373.5" font-size="26" fill="#2c56a0" kerning="0" style="font-kerning:none" font-style="italic" textLength="168.06" lengthAdjust="spacingAndGlyphs" stroke="#e4e9f5" stroke-width="0.6">Approximate Values</text>
</svg>
</body></html>
